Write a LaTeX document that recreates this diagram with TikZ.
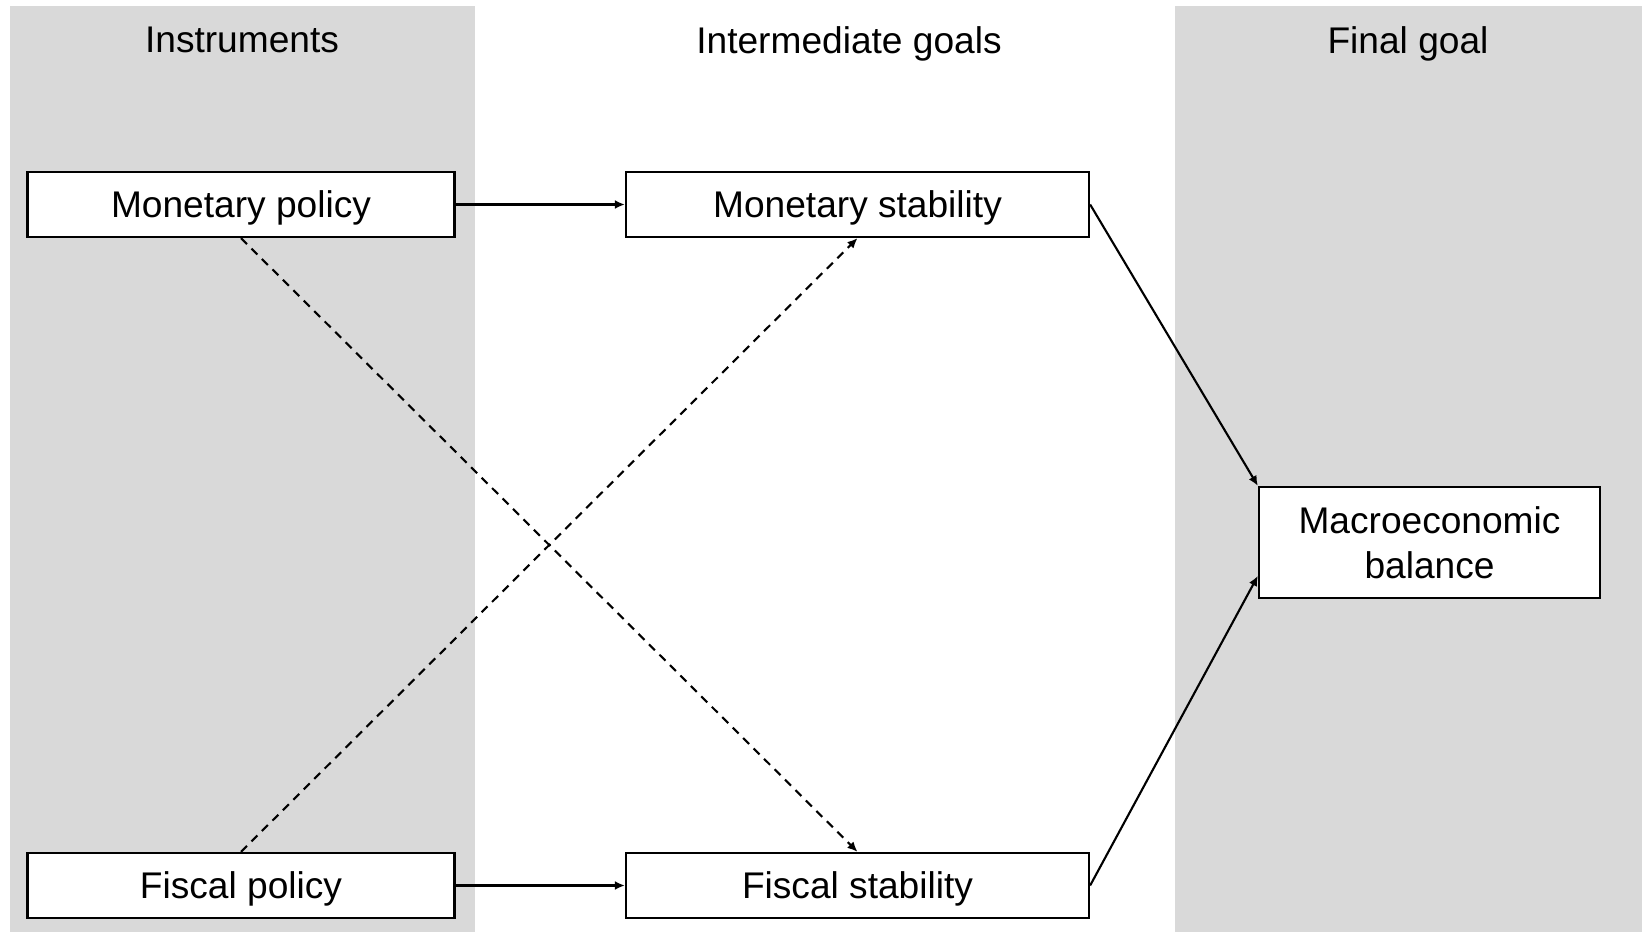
\documentclass[tikz,border=0pt]{standalone}
\usepackage{fontspec}
\setmainfont{Liberation Sans}
\usepackage{xcolor}
\usetikzlibrary{arrows.meta}
\definecolor{panelgray}{RGB}{217,217,217}

\begin{document}
\begin{tikzpicture}[
        paneltitle/.style={text depth=0pt},
        goalbox/.style={draw, fill=white, line width=0.65pt, inner sep=0pt, minimum height=0.65cm},
        onelinebox/.style={goalbox, text depth=0pt},
        link/.style={line width=0.6pt, -{Latex[length=1mm,width=0.9mm]}},
        crosslink/.style={link, dash pattern=on 2.4pt off 1.8pt},
        font=\fontsize{10.56}{12.8}\selectfont]
        \useasboundingbox (0,0) rectangle (16.42,9.32);
        \foreach \xa/\xb in {0.10/4.75,11.75/16.42} {
            \fill[panelgray] (\xa,0) rectangle (\xb,9.26);
        }
        \node[paneltitle] (instr) at (2.42,8.92) {Instruments};
        \node[paneltitle] (inter) at (8.49,8.92) {Intermediate goals};
        \node[paneltitle] (final) at (14.08,8.92) {Final goal};

        \node[onelinebox, minimum width=4.27cm] (monpol) at (2.41,7.275) {Monetary policy};
        \node[onelinebox, minimum width=4.27cm] (fispol) at (2.41,0.465) {Fiscal policy};
        \node[onelinebox, minimum width=4.63cm] (monstab) at (8.575,7.275) {Monetary stability};
        \node[onelinebox, minimum width=4.63cm] (fisstab) at (8.575,0.465) {Fiscal stability};
        \node[goalbox, minimum width=3.41cm, minimum height=1.11cm, align=center] (macro) at (14.295,3.895) {Macroeconomic\\balance};

        \draw[link] (monpol) -- (monstab);
        \draw[link] (fispol) -- (fisstab);
        \draw[crosslink] (monpol.south) -- (fisstab.north);
        \draw[crosslink] (fispol.north) -- (monstab.south);
        \draw[link] (monstab.east) -- (macro.north west);
        \draw[link] (fisstab.east) -- (macro.191);
    \end{tikzpicture}
\end{document}
